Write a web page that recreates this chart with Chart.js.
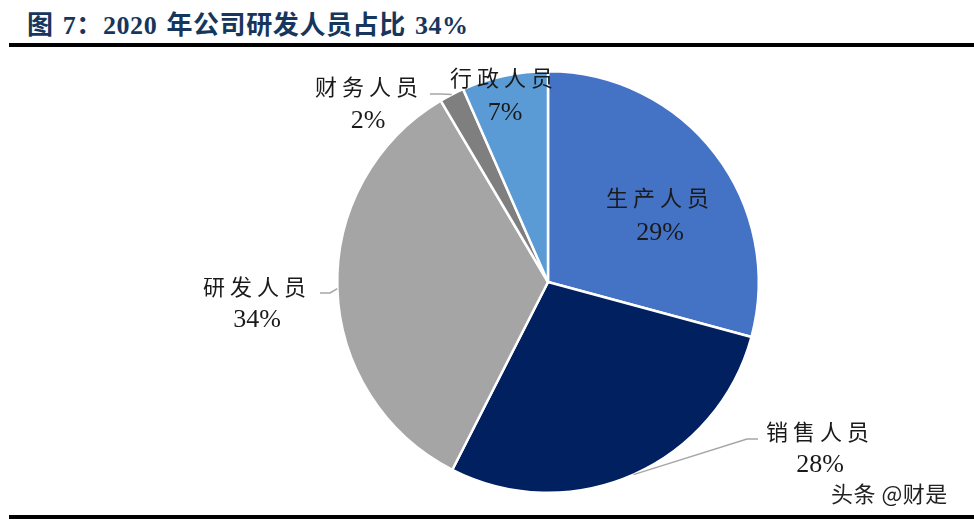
<!DOCTYPE html>
<html>
<head>
<meta charset="utf-8">
<script src="https://cdn.jsdelivr.net/npm/chart.js@4.4.1/dist/chart.umd.min.js"></script>
<style>
  html, body { margin: 0; padding: 0; background: #fff; }
  #wrap { position: relative; width: 974px; height: 522px; overflow: hidden; }
  #title { position: absolute; left: 27px; top: 4px; font: bold 26px "Liberation Serif", "Noto Sans CJK SC", serif; color: #17365D; white-space: nowrap; letter-spacing: 0.6px; word-spacing: 2px; }
  .rule { position: absolute; left: 9px; right: 0; height: 4px; background: #000; }
  #mark { position: absolute; left: 831px; top: 476px; font: 22px "Noto Sans CJK SC", sans-serif; color: #222; text-shadow: 0 0 2px #fff, 0 0 2px #fff; white-space: nowrap; letter-spacing: 0.5px; }
  canvas { position: absolute; left: 0; top: 0; }
</style>
</head>
<body>
<div id="wrap">
  <div id="title">图 7：2020 年公司研发人员占比 34%</div>
  <div class="rule" style="top:43px"></div>
  <canvas id="myChart" width="974" height="522"></canvas>
  <div class="rule" style="top:515px"></div>
  <div id="mark">头条 @财是</div>
</div>
<script>
const categories = ['生产人员', '销售人员', '研发人员', '财务人员', '行政人员'];
const shares = [29.2, 28.3, 34, 1.9, 6.6];
const pctLabels = ['29%', '28%', '34%', '2%', '7%'];
const colors = ['#4472C4', '#002060', '#A5A5A5', '#7F7F7F', '#5B9BD5'];

// label spots, offsets from pie centre: [nameX, nameY, pctX, pctY]
const labelSpots = [
  [110, -84, 112, -49],
  [270, 150, 272, 183],
  [-293, 5, -291, 38],
  [-181, -195, -180, -161],
  [-46, -204, -43, -169]
];
// leader lines: elbow + end, offsets from centre (null = no line)
const leaders = [
  null,
  [[199, 157], [210, 157]],
  [[-218, 11], [-228, 11]],
  [[-107, -188], [-118, -188]],
  null
];

const labelPlugin = {
  id: 'pieLabels',
  afterDatasetsDraw(chart) {
    const ctx = chart.ctx;
    const arcs = chart.getDatasetMeta(0).data;
    ctx.save();
    arcs.forEach((arc, i) => {
      const cx = arc.x, cy = arc.y;
      if (leaders[i]) {
        const mid = (arc.startAngle + arc.endAngle) / 2;
        const sx = cx + Math.cos(mid) * arc.outerRadius;
        const sy = cy + Math.sin(mid) * arc.outerRadius;
        ctx.beginPath();
        ctx.moveTo(sx, sy);
        leaders[i].forEach(p => ctx.lineTo(cx + p[0], cy + p[1]));
        ctx.strokeStyle = '#A6A6A6';
        ctx.lineWidth = 1.5;
        ctx.stroke();
      }
      const s = labelSpots[i];
      ctx.fillStyle = '#1a1a1a';
      ctx.textAlign = 'center';
      ctx.textBaseline = 'middle';
      ctx.font = '22px "Noto Sans CJK SC", sans-serif';
      ctx.letterSpacing = '5px';
      ctx.fillText(categories[i], cx + s[0] + 2, cy + s[1]);
      ctx.font = '26px "Liberation Serif", serif';
      ctx.letterSpacing = '0px';
      ctx.fillText(pctLabels[i], cx + s[2], cy + s[3]);
    });
    ctx.restore();
  }
};

const ctx = document.getElementById('myChart').getContext('2d');
const myChart = new Chart(ctx, {
  type: 'pie',
  data: {
    labels: categories,
    datasets: [{
      data: shares,
      backgroundColor: colors,
      borderColor: '#fff',
      borderWidth: 2.5
    }]
  },
  options: {
    responsive: false,
    animation: false,
    layout: { padding: { left: 336, right: 214, top: 70, bottom: 28 } },
    plugins: {
      legend: { display: false },
      tooltip: { enabled: false }
    }
  },
  plugins: [labelPlugin]
});
</script>
</body>
</html>
